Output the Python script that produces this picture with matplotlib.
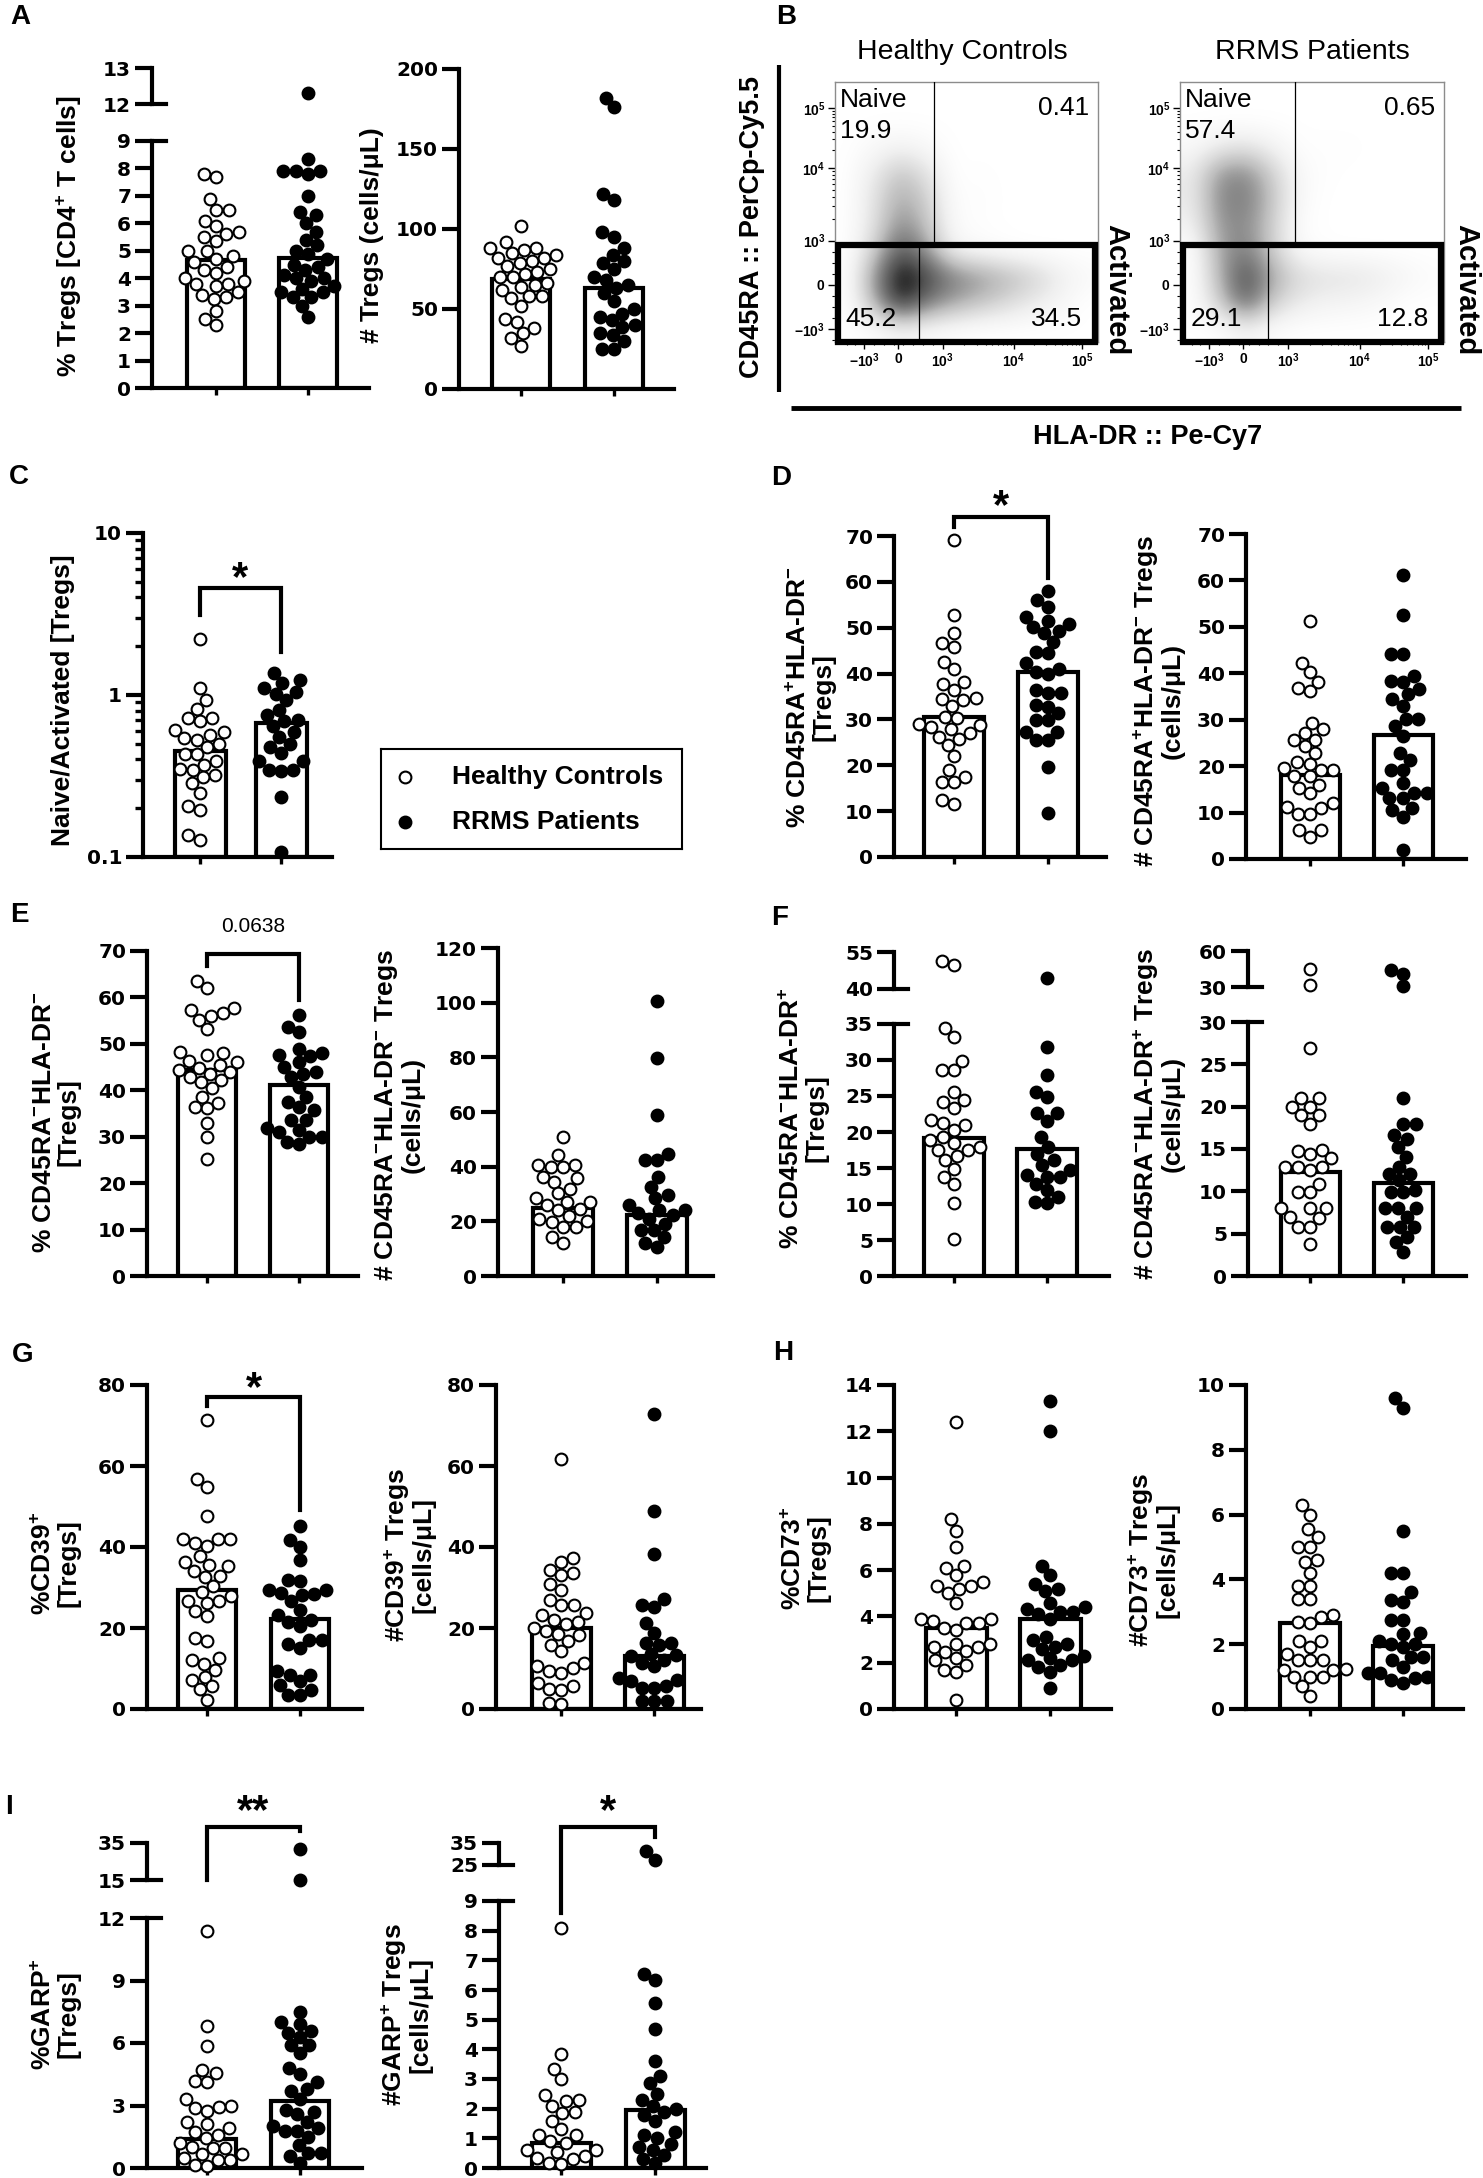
import numpy as np
import matplotlib
matplotlib.use('Agg')
import matplotlib.pyplot as plt
from matplotlib.patches import Rectangle
from matplotlib.lines import Line2D
from matplotlib.transforms import offset_copy

plt.rcParams['font.family'] = ['Liberation Sans', 'DejaVu Sans']
plt.rcParams['mathtext.fontset'] = 'custom'
plt.rcParams['mathtext.rm'] = 'Liberation Sans'
plt.rcParams['mathtext.bf'] = 'Liberation Sans:bold'
plt.rcParams['mathtext.it'] = 'Liberation Sans:italic'

# ---------------- data ----------------
groups = ['Healthy Controls', 'RRMS Patients']

a_pct_hc = [7.8, 7.7, 6.9, 6.5, 6.5, 6.1, 5.9, 5.7, 5.6, 5.5, 5.35, 5.0, 5.0, 4.8, 4.7, 4.6, 4.4, 4.3, 4.2, 4.0,
            3.9, 3.8, 3.8, 3.7, 3.5, 3.4, 3.3, 3.25, 2.8, 2.5, 2.3]
a_pct_rr = [12.3, 8.35, 7.9, 7.9, 7.8, 7.9, 7.0, 6.4, 6.3, 6.0, 5.7, 5.4, 5.2, 4.9, 4.7, 4.5, 4.4, 4.3, 4.0, 4.0,
            3.9, 3.7, 3.5, 3.5, 3.3, 3.3, 3.0, 2.6, 4.1, 3.6, 5.0]
a_pct_bar = [4.65, 4.72]

a_num_hc = [102, 92, 88, 88, 87, 85, 82, 82, 80, 79, 77, 73, 72, 70, 70, 66, 65, 64, 62, 58, 58, 57, 52, 44, 42,
            38, 35, 32, 27, 84, 75]
a_num_rr = [182, 176, 122, 118, 98, 95, 88, 84, 80, 79, 75, 70, 68, 65, 63, 60, 55, 50, 47, 45, 43, 40, 39, 35,
            34, 30, 25, 25]
a_num_bar = [68.5, 63]

c_ratio_hc = [2.21, 1.10, 0.93, 0.82, 0.72, 0.72, 0.69, 0.61, 0.59, 0.57, 0.54, 0.53, 0.48, 0.50, 0.43, 0.43,
              0.39, 0.37, 0.345, 0.35, 0.32, 0.31, 0.285, 0.25, 0.205, 0.195, 0.137, 0.128]
c_ratio_rr = [1.36, 1.24, 1.19, 1.05, 1.02, 0.93, 0.81, 0.69, 0.70, 0.64, 0.59, 0.50, 0.48, 0.44, 0.39, 0.39,
              0.345, 0.34, 0.345, 0.235, 0.108, 0.75, 0.55, 1.1]
c_ratio_bar = [0.45, 0.67]

d_pct_hc = [69.1, 52.8, 48.8, 46.6, 45.7, 42.6, 41.1, 38.2, 37.8, 36.5, 34.6, 34.4, 34.2, 32.9, 30.6, 30.4, 29.1,
            28.4, 28.7, 26.2, 27.0, 25.8, 24.4, 22.0, 18.9, 17.5, 16.4, 16.4, 12.4, 11.6, 28.0]
d_pct_rr = [57.9, 56.0, 54.6, 52.4, 50.9, 50.2, 51.5, 48.8, 49.3, 46.9, 44.4, 44.8, 42.2, 41.1, 40.0, 40.4, 35.7,
            36.4, 35.7, 33.1, 32.8, 31.3, 29.8, 29.8, 27.3, 27.3, 25.5, 25.5, 19.7, 9.5]
d_pct_bar = [30.6, 40.4]

d_num_hc = [51.2, 42.2, 40.2, 38.2, 36.9, 36.2, 29.4, 27.9, 27.2, 25.7, 25.7, 24.3, 22.9, 21.0, 19.2, 19.2, 17.8,
            17.8, 16.0, 14.2, 15.3, 12.0, 10.9, 11.3, 9.8, 9.8, 6.2, 6.2, 4.8, 19.5, 20.5]
d_num_rr = [61.2, 52.5, 44.2, 44.2, 39.5, 38.4, 38.2, 36.6, 35.5, 34.4, 33.0, 30.1, 30.1, 28.6, 26.5, 22.8, 21.4,
            19.2, 19.2, 16.3, 15.3, 14.2, 14.2, 13.1, 13.1, 10.9, 10.5, 9.1, 2.0]
d_num_bar = [18.1, 26.8]

e_pct_hc = [63.6, 62.0, 57.7, 57.3, 56.7, 55.9, 55.1, 53.1, 48.3, 48.0, 47.6, 46.4, 46.2, 45.4, 44.4, 44.9, 44.0,
            43.6, 42.9, 41.8, 42.2, 40.4, 38.6, 37.2, 36.1, 36.4, 32.9, 30.0, 25.3]
e_pct_rr = [56.2, 53.7, 52.6, 49.0, 48.0, 47.6, 47.4, 46.2, 45.1, 44.0, 43.6, 42.9, 40.8, 38.6, 37.5, 36.4, 35.7,
            33.6, 33.6, 31.8, 31.4, 30.0, 30.0, 28.5, 28.9, 31.0]
e_pct_bar = [44.4, 41.1]

e_num_hc = [51, 44.2, 40.6, 40.6, 40, 40, 35.7, 36.3, 34.5, 32, 30.2, 28.4, 27, 26, 24, 27, 20, 21, 19.8, 18, 18,
            14.3, 11.9, 24.5, 22]
e_num_rr = [100.5, 79.7, 58.9, 44.8, 42.4, 42.4, 36.3, 32.6, 29.6, 28.4, 24, 25.9, 24, 21, 22.2, 16.7, 16.7, 14.3,
            10.6, 11.9, 23, 19]
e_num_bar = [24.7, 22.2]

f_pct_hc = [49.8, 51.2, 34.4, 33.2, 29.9, 28.6, 28.6, 25.6, 24.4, 24.2, 23.3, 21.7, 21.0, 21.2, 20.3, 19.3, 18.9,
            17.9, 17.5, 17.5, 16.6, 16.1, 14.9, 13.8, 12.8, 10.1, 5.2, 18.5]
f_pct_rr = [44.4, 31.8, 27.9, 25.6, 24.9, 22.6, 22.6, 21.5, 19.3, 17.9, 17.0, 16.1, 15.4, 14.7, 14.0, 13.8, 13.8,
            12.8, 11.9, 10.3, 11.0, 10.1]
f_pct_bar = [19.2, 17.6]

f_num_hc = [45.4, 31.4, 26.9, 21, 21, 20, 20, 19, 19, 18, 14.8, 14.9, 14.4, 13.9, 12.9, 12.9, 12.9, 12.5, 10.9, 9.9,
            9.9, 8, 8, 8, 7, 6.8, 5.8, 5.8, 3.8]
f_num_rr = [44, 41.2, 30.5, 21, 18, 18, 16.6, 16.2, 15.2, 14.1, 12.9, 12.1, 12.1, 11.3, 10.1, 9.9, 9.9, 8, 8, 8, 7,
            5.8, 5.8, 5.8, 4.6, 4, 2.8]
f_num_bar = [12.3, 11.0]

g_pct_hc = [71.4, 56.7, 54.8, 47.7, 41.9, 41.0, 41.9, 41.9, 40.3, 37.7, 36.2, 35.2, 35.6, 34.0, 32.9, 32.7, 30.3,
            29.0, 28.0, 26.2, 26.6, 26.6, 24.1, 23.0, 17.5, 16.7, 12.2, 12.6, 11.1, 9.7, 8.0, 7.2, 5.6, 4.9, 2.3]
g_pct_rr = [45.2, 41.8, 40.1, 36.8, 31.9, 31.5, 29.4, 29.3, 28.5, 28.2, 28.6, 26.6, 24.5, 23.3, 22.0, 21.6, 20.4,
            17.1, 17.1, 15.0, 16.0, 9.3, 8.5, 8.5, 6.8, 6.0, 4.8, 3.5, 3.5]
g_pct_bar = [29.4, 22.2]

g_num_hc = [61.7, 37.3, 36.4, 34.4, 33.6, 33.1, 30.9, 29.3, 27.0, 25.7, 25.7, 23.7, 23.3, 22.0, 21.0, 21.4, 20.0,
            19.2, 18.5, 18.3, 15.9, 16.7, 14.2, 10.1, 10.7, 11.3, 8.9, 9.3, 6.4, 5.6, 4.9, 4.8, 1.4, 1.3]
g_num_rr = [72.9, 49.0, 38.3, 27.1, 25.7, 25.3, 21.2, 18.8, 16.3, 16.3, 15.9, 13.0, 13.5, 13.4, 12.2, 11.3, 10.5,
            7.2, 7.0, 7.6, 5.2, 5.2, 5.6, 1.9, 1.9, 1.9]
g_num_bar = [20.0, 13.0]

h_pct_hc = [12.4, 8.2, 7.7, 7.0, 6.2, 6.1, 5.8, 5.3, 5.3, 5.5, 5.2, 5.0, 4.6, 3.9, 3.9, 3.8, 3.7, 3.5, 3.7, 3.4,
            2.8, 2.7, 2.8, 2.7, 2.45, 2.5, 2.1, 2.2, 1.9, 1.7, 1.6, 0.4]
h_pct_rr = [13.3, 12.0, 6.2, 5.8, 5.4, 5.1, 5.2, 4.6, 4.2, 4.3, 4.4, 4.1, 4.2, 3.9, 3.1, 3.0, 2.8, 2.6, 2.7, 2.1,
            2.1, 2.2, 2.3, 1.8, 1.9, 1.6, 0.9]
h_pct_bar = [3.5, 3.9]

h_num_hc = [6.3, 6.0, 5.55, 5.3, 5.0, 5.0, 4.6, 4.55, 4.2, 3.8, 3.8, 3.4, 3.4, 2.9, 2.85, 2.65, 2.7, 2.1, 2.1, 1.9,
            1.7, 1.5, 1.5, 1.5, 1.2, 1.25, 1.2, 1.0, 1.0, 1.0, 0.7, 0.4]
h_num_rr = [9.6, 9.3, 5.5, 4.2, 4.2, 3.6, 3.3, 3.35, 2.75, 2.75, 2.1, 2.35, 2.3, 2.0, 1.9, 2.0, 1.6, 1.5, 1.6, 1.3,
            1.1, 1.1, 1.0, 0.95, 0.9, 0.8]
h_num_bar = [2.65, 1.93]

i_pct_hc = [11.4, 6.8, 5.85, 4.7, 4.55, 4.2, 4.15, 3.3, 3.0, 2.95, 2.9, 2.75, 2.2, 2.1, 1.9, 1.75, 1.6, 1.45, 1.0,
            1.2, 0.95, 0.95, 0.65, 0.5, 0.65, 0.4, 0.4, 0.15, 0.1]
i_pct_rr = [31.7, 15.0, 7.5, 7.0, 6.9, 6.3, 6.6, 6.5, 5.9, 5.9, 5.5, 4.8, 4.5, 4.15, 3.8, 3.7, 3.3, 2.2, 2.7, 2.6,
            2.8, 1.8, 2.0, 1.9, 1.8, 1.5, 1.1, 0.7, 0.7, 0.6, 0.25]
i_pct_bar = [1.4, 3.2]

i_num_hc = [8.1, 3.85, 3.35, 3.0, 2.45, 2.3, 2.1, 2.25, 1.85, 1.9, 1.6, 1.3, 1.1, 1.1, 0.9, 0.85, 0.6, 0.6, 0.55,
            0.4, 0.35, 0.3, 0.17, 0.15]
i_num_rr = [31.2, 27.3, 6.55, 6.35, 5.55, 4.7, 3.6, 3.1, 2.85, 2.5, 2.3, 2.1, 2.0, 1.9, 1.8, 1.6, 1.1, 1.2, 1.0,
            0.8, 0.7, 0.6, 0.45, 0.3, 0.17]
i_num_bar = [0.85, 1.95]

# flow-cytometry event density (rows: top -> bottom, cols: left -> right)
hc_density = np.array([
    [0, 0, 0, 0, 0, 0, 0, 0, 0, 0],
    [0, 0, 0, 0, 0, 0, 0, 0, 0, 0],
    [0, 0.05, 0.1, 0.05, 0, 0, 0, 0, 0, 0],
    [0, 0.15, 0.35, 0.2, 0, 0.01, 0, 0, 0, 0],
    [0, 0.2, 0.45, 0.3, 0.02, 0.02, 0, 0, 0, 0],
    [0, 0.2, 0.55, 0.35, 0.03, 0.01, 0, 0, 0, 0],
    [0, 0.3, 0.75, 0.5, 0.1, 0.05, 0.02, 0, 0, 0],
    [0, 0.5, 1.0, 0.8, 0.6, 0.5, 0.4, 0.3, 0.15, 0.05],
    [0, 0.4, 0.9, 0.6, 0.45, 0.35, 0.25, 0.15, 0.08, 0],
    [0, 0.02, 0.1, 0.05, 0.02, 0, 0, 0, 0, 0]])
rr_density = np.array([
    [0, 0, 0, 0, 0, 0, 0, 0, 0, 0],
    [0, 0, 0, 0, 0, 0, 0, 0, 0, 0],
    [0.05, 0.15, 0.2, 0.1, 0.01, 0.01, 0.01, 0, 0, 0],
    [0.15, 0.5, 0.55, 0.3, 0.05, 0.01, 0, 0, 0, 0],
    [0.15, 0.55, 0.6, 0.35, 0.05, 0, 0, 0, 0, 0],
    [0.1, 0.5, 0.55, 0.3, 0.02, 0, 0, 0, 0, 0],
    [0, 0.45, 0.6, 0.3, 0.05, 0.01, 0, 0, 0, 0],
    [0, 0.4, 0.8, 0.45, 0.25, 0.2, 0.2, 0.15, 0.08, 0.03],
    [0, 0.3, 0.7, 0.3, 0.15, 0.1, 0.08, 0.05, 0, 0],
    [0, 0, 0.1, 0.02, 0, 0, 0, 0, 0, 0]])
hc_quadrants = ['19.9', '0.41', '45.2', '34.5']
rr_quadrants = ['57.4', '0.65', '29.1', '12.8']
flow_tick_labels = [r'$\mathbf{-10^{3}}$', r'$\mathbf{0}$', r'$\mathbf{10^{3}}$', r'$\mathbf{10^{4}}$',
                    r'$\mathbf{10^{5}}$']

# ---------------- figure ----------------
W, H = 1483, 2178
fig = plt.figure(figsize=(W / 100, H / 100), dpi=100)
fig.patch.set_facecolor('white')
LW = 3.0
TICK_FS = 14.5
TICK_FAMILY = 'DejaVu Sans'
LAB_FS = 19
MS = 72
MLW = 1.5
D_SW = 12.5
TICK_LEN = 12


def axpx(x0, y0, x1, y1):
    return fig.add_axes([x0 / W, 1 - y1 / H, (x1 - x0) / W, (y1 - y0) / H])


def ftext(x, y, s, **kw):
    return fig.text(x / W, 1 - y / H, s, **kw)


def fline(xs, ys, lw):
    fig.add_artist(Line2D([x / W for x in xs], [1 - y / H for y in ys], transform=fig.transFigure,
                          color='black', lw=lw, solid_capstyle='butt'))


def swarm(y, d):
    n = len(y)
    xs = np.zeros(n)
    placed = []
    for i in np.argsort(y):
        yi = y[i]
        near = [(px, py) for (px, py) in placed if abs(py - yi) < d]
        cands = [0.0]
        for px, py in near:
            dx = np.sqrt(max(d * d - (py - yi) ** 2, 0.0))
            cands += [px + dx, px - dx]
        cands = sorted(set(cands), key=lambda c: (abs(c), c))
        for c in cands:
            if all((c - px) ** 2 + (yi - py) ** 2 >= d * d - 1e-6 for px, py in near):
                xs[i] = c
                break
        placed.append((xs[i], yi))
    return xs


def fmt(v):
    if v == int(v):
        return str(int(v))
    return str(v)


def style_yticks(ax, ticks):
    ax.set_yticks(ticks)
    ax.set_yticklabels([fmt(t) for t in ticks], fontsize=TICK_FS, fontweight='bold', family=TICK_FAMILY)
    ax.tick_params(axis='y', which='major', length=TICK_LEN, width=LW, direction='out', pad=3)


def bar_panel(spine, right, centers, barw, lower, hc, rr, means, ylabel, lab, upper=None, log=False,
              bracket=None):
    c1, c2 = centers
    unit = c2 - c1
    xl = (spine - c1) / unit
    xr = (right - c1) / unit
    ltop, lbot, ymin, ymax, lticks = lower
    ax = axpx(spine, ltop, right, lbot)
    ax.set_facecolor('none')
    if log:
        ax.set_yscale('log')
    ax.set_xlim(xl, xr)
    ax.set_ylim(ymin, ymax)
    for s in ['top', 'right']:
        ax.spines[s].set_visible(False)
    for s in ['left', 'bottom']:
        ax.spines[s].set_linewidth(LW)
    style_yticks(ax, lticks)
    if log:
        ax.set_yticks([m * 10 ** k for k in (-1, 0) for m in range(2, 10)], minor=True)
        ax.set_yticklabels([], minor=True)
        ax.tick_params(axis='y', which='minor', length=6, width=LW * 0.8, direction='out')
    ax.set_xticks([0, 1])
    ax.set_xticklabels([])
    ax.tick_params(axis='x', length=5, width=LW * 0.8, direction='out')
    base = ymin if log else 0
    ax.bar([0, 1], [m - base for m in means], bottom=base, width=barw / unit, facecolor='white',
           edgecolor='black', linewidth=LW, zorder=1)
    axu = None
    if upper is not None:
        utop, ubot, umin, umax, uticks = upper
        axu = axpx(spine, utop, right, ubot)
        axu.set_facecolor('none')
        axu.set_xlim(xl, xr)
        axu.set_ylim(umin, umax)
        for s in ['top', 'right', 'bottom']:
            axu.spines[s].set_visible(False)
        axu.spines['left'].set_linewidth(LW)
        axu.set_xticks([])
        style_yticks(axu, uticks)
        # break ticks crossing the axis
        tl = 14 / (right - spine)
        ax.add_line(Line2D([0, tl], [1, 1], transform=ax.transAxes, color='black', lw=LW, clip_on=False))
        axu.add_line(Line2D([0, tl], [0, 0], transform=axu.transAxes, color='black', lw=LW, clip_on=False))
    # points
    for gi, (vals, fc) in enumerate([(hc, 'white'), (rr, 'black')]):
        vals = np.asarray(vals, dtype=float)
        which = [axu if (axu is not None and v > ymax) else ax for v in vals]
        disp = np.array([w.transData.transform((gi, v)) for w, v in zip(which, vals)])
        offs = swarm(disp[:, 1], D_SW)
        for w in set(which):
            idx = [k for k in range(len(vals)) if which[k] is w]
            xd = [w.transData.inverted().transform((disp[k, 0] + offs[k], disp[k, 1]))[0] for k in idx]
            w.scatter(xd, vals[idx], s=MS, facecolor=fc, edgecolor='black', linewidth=MLW, zorder=3,
                      clip_on=False)
    ftext(lab[0], lab[1], ylabel, rotation=90, ha='center', va='center', fontsize=LAB_FS,
          fontweight='bold', multialignment='center', linespacing=1.0)
    if bracket is not None:
        yh, yl_, yr_, txt, ty = bracket
        ax.plot([0, 0, 1, 1], [yl_, yh, yh, yr_], color='black', lw=LW, clip_on=False,
                solid_joinstyle='miter', zorder=4)
        if txt.startswith('*'):
            tr = offset_copy(ax.transData, fig=fig, x=0, y=-0.56 * 30, units='points')
            ax.text(0.5, ty, txt, transform=tr, ha='center', va='baseline', fontsize=30,
                    fontweight='bold', clip_on=False)
        else:
            ax.text(0.5, ty, txt, ha='center', va='center', fontsize=15, clip_on=False)
    return ax


def yl(a, b):
    return list(range(a, b + 1))


bar_panel(152, 369, (216, 308), 58, (141, 388, 0, 9, yl(0, 9)), a_pct_hc, a_pct_rr, a_pct_bar,
          r'% Tregs [CD4$^{\mathbf{+}}$ T cells]', (69, 236), upper=(68, 104, 12, 13, [12, 13]))
bar_panel(459, 674, (521, 614), 58, (69, 389, 0, 200, [0, 50, 100, 150, 200]), a_num_hc, a_num_rr,
          a_num_bar, '# Tregs (cells/μL)', (372, 235))
bar_panel(143, 332, (200, 281), 51, (533, 857, 0.1, 10, [0.1, 1, 10]), c_ratio_hc, c_ratio_rr, c_ratio_bar,
          'Naive/Activated [Tregs]', (63, 700), log=True, bracket=(4.57, 3.12, 1.84, '*', 6.2))
bar_panel(894, 1106, (954, 1048), 60, (536, 857, 0, 70, list(range(0, 71, 10))), d_pct_hc, d_pct_rr,
          d_pct_bar, r'% CD45RA$^{\mathbf{+}}$HLA-DR$^{\mathbf{-}}$' + '\n[Tregs]', (811, 697),
          bracket=(74.1, 72.0, 60.8, '*', 78.9))
bar_panel(1246, 1466, (1310, 1403), 59, (534, 859, 0, 70, list(range(0, 71, 10))), d_num_hc, d_num_rr,
          d_num_bar, r'# CD45RA$^{\mathbf{+}}$HLA-DR$^{\mathbf{-}}$ Tregs' + '\n(cells/μL)', (1158, 701))
bar_panel(147, 358, (207, 299), 58, (951, 1276, 0, 70, list(range(0, 71, 10))), e_pct_hc, e_pct_rr,
          e_pct_bar, r'% CD45RA$^{\mathbf{-}}$HLA-DR$^{\mathbf{-}}$' + '\n[Tregs]', (56, 1122),
          bracket=(69.4, 66.8, 59.4, '0.0638', 75.2))
bar_panel(498, 713, (563, 657), 60, (948, 1276, 0, 120, list(range(0, 121, 20))), e_num_hc, e_num_rr,
          e_num_bar, r'# CD45RA$^{\mathbf{-}}$HLA-DR$^{\mathbf{-}}$ Tregs' + '\n(cells/μL)', (399, 1115))
bar_panel(894, 1109, (954, 1047), 60, (1024, 1276, 0, 35, list(range(0, 36, 5))), f_pct_hc, f_pct_rr,
          f_pct_bar, r'% CD45RA$^{\mathbf{-}}$HLA-DR$^{\mathbf{+}}$' + '\n[Tregs]', (804, 1118),
          upper=(952, 989, 40, 55, [40, 55]))
bar_panel(1248, 1466, (1310, 1403), 59, (1022, 1276, 0, 30, list(range(0, 31, 5))), f_num_hc, f_num_rr,
          f_num_bar, r'# CD45RA$^{\mathbf{-}}$HLA-DR$^{\mathbf{+}}$ Tregs' + '\n(cells/μL)', (1158, 1114),
          upper=(951, 987, 30, 60, [30, 60]))
bar_panel(147, 362, (207, 300), 58, (1385, 1709, 0, 80, list(range(0, 81, 20))), g_pct_hc, g_pct_rr,
          g_pct_bar, r'%CD39$^{\mathbf{+}}$' + '\n[Tregs]', (56, 1563), bracket=(77.0, 74.8, 49.1, '*', 82.0))
bar_panel(496, 701, (561, 654), 59, (1385, 1709, 0, 80, list(range(0, 81, 20))), g_num_hc, g_num_rr,
          g_num_bar, r'#CD39$^{\mathbf{+}}$ Tregs' + '\n[cells/μL]', (409, 1555))
bar_panel(894, 1111, (956, 1050), 61, (1385, 1709, 0, 14, list(range(0, 15, 2))), h_pct_hc, h_pct_rr,
          h_pct_bar, r'%CD73$^{\mathbf{+}}$' + '\n[Tregs]', (806, 1558))
bar_panel(1246, 1463, (1310, 1403), 60, (1385, 1709, 0, 10, list(range(0, 11, 2))), h_num_hc, h_num_rr,
          h_num_bar, r'#CD73$^{\mathbf{+}}$ Tregs' + '\n[cells/μL]', (1153, 1560))
bar_panel(147, 362, (207, 300), 58, (1918, 2168, 0, 12, [0, 3, 6, 9, 12]), i_pct_hc, i_pct_rr, i_pct_bar,
          r'%GARP$^{\mathbf{+}}$' + '\n[Tregs]', (56, 2014), upper=(1843, 1880, 15, 35, [15, 35]),
          bracket=(16.37, 13.82, 16.18, '**', 17.66))
bar_panel(499, 706, (561, 655), 59, (1901, 2168, 0, 9, yl(0, 9)), i_num_hc, i_num_rr, i_num_bar,
          r'#GARP$^{\mathbf{+}}$ Tregs' + '\n[cells/μL]', (406, 2015), upper=(1843, 1865, 25, 35, [25, 35]),
          bracket=(11.5, 8.6, 11.16, '*', 12.4))

# ---------------- legend ----------------
lg = axpx(381, 749, 682, 849)
lg.set_xlim(0, 301)
lg.set_ylim(100, 0)
lg.set_xticks([])
lg.set_yticks([])
for s in lg.spines.values():
    s.set_linewidth(1.5)
lg.scatter([24], [28], s=MS, facecolor='white', edgecolor='black', linewidth=MLW)
lg.scatter([24], [73], s=MS, facecolor='black', edgecolor='black', linewidth=MLW)
lg.text(71, 28, groups[0], fontsize=19, fontweight='bold', va='center')
lg.text(71, 73, groups[1], fontsize=19, fontweight='bold', va='center')

# ---------------- flow plots (panel B) ----------------
flow_x_pos = [0.11, 0.24, 0.41, 0.68, 0.94]
flow_y_pos = [0.05, 0.22, 0.39, 0.67, 0.90]


def minor_positions(pos):
    out = []
    for a, b in [(pos[2], pos[3]), (pos[3], pos[4])]:
        out += [a + (b - a) * np.log10(m) for m in range(2, 10)]
    out += list(np.linspace(pos[0], pos[2], 9)[1:-1])
    out += [pos[0] - (pos[1] - pos[0]) / 4 * k for k in (1, 2)]
    return [p for p in out if 0 <= p <= 1]


def flow_panel(x0, y0, x1, y1, grid, q_up, q_low, quad):
    ax = axpx(x0, y0, x1, y1)
    ax.imshow(grid, extent=(0, 1, 0, 1), origin='upper', cmap='Greys', vmin=0, vmax=1.0,
              interpolation='bicubic', aspect='auto', zorder=0)
    ax.set_xlim(0, 1)
    ax.set_ylim(0, 1)
    for s in ax.spines.values():
        s.set_color('#8c8c8c')
        s.set_linewidth(1)
    gate_top = 0.373
    ax.add_patch(Rectangle((0.012, 0.0), 0.976, gate_top, fill=False, lw=4.5, ec='black', zorder=4,
                           clip_on=False, joinstyle='miter'))
    ax.plot([q_up, q_up], [gate_top, 1], color='black', lw=0.9, zorder=3)
    ax.plot([q_low, q_low], [0, gate_top], color='black', lw=0.9, zorder=3)
    ax.set_xticks(flow_x_pos)
    ax.set_xticklabels(flow_tick_labels, fontsize=10)
    ax.set_yticks(flow_y_pos)
    ax.set_yticklabels(flow_tick_labels, fontsize=10)
    ax.set_xticks(minor_positions(flow_x_pos), minor=True)
    ax.set_yticks(minor_positions(flow_y_pos), minor=True)
    ax.tick_params(which='major', length=5, width=1.0, color='black', pad=2)
    ax.tick_params(which='minor', length=2.5, width=0.8, color='black')
    ax.text(0.02, 0.93, 'Naive', fontsize=19, ha='left', va='center')
    ax.text(0.02, 0.81, quad[0], fontsize=19, ha='left', va='center')
    ax.text(0.965, 0.90, quad[1], fontsize=19, ha='right', va='center')
    ax.text(0.04, 0.09, quad[2], fontsize=19, ha='left', va='center', zorder=5)
    ax.text(0.94, 0.09, quad[3], fontsize=19, ha='right', va='center', zorder=5)
    return ax


flow_panel(835, 82, 1098, 342, hc_density, 0.376, 0.32, hc_quadrants)
flow_panel(1180, 82, 1444, 342, rr_density, 0.436, 0.333, rr_quadrants)
ftext(962, 52, groups[0], fontsize=20.5, ha='center', va='center')
ftext(1312, 52, groups[1], fontsize=20.5, ha='center', va='center')
ftext(1116, 290, 'Activated', fontsize=21, fontweight='bold', rotation=270, ha='center', va='center')
ftext(1466, 290, 'Activated', fontsize=21, fontweight='bold', rotation=270, ha='center', va='center')
ftext(752, 227, 'CD45RA :: PerCp-Cy5.5', fontsize=19.5, fontweight='bold', rotation=90, ha='center',
      va='center')
ftext(1148, 437, 'HLA-DR :: Pe-Cy7', fontsize=19.5, fontweight='bold', ha='center', va='center')
fline([779, 779], [65, 392], 3)
fline([791, 1461], [408, 408], 3.5)

# ---------------- panel letters ----------------
for letter, (x, y) in zip('ABCDEFGHI', [(10, 17), (776, 17), (9, 477), (771, 478), (10, 915), (771, 918),
                                         (12, 1355), (773, 1353), (5, 1807)]):
    ftext(x, y, letter, fontsize=20, fontweight='bold', ha='left', va='center')

fig.savefig('out.png', dpi=100, facecolor='white')
